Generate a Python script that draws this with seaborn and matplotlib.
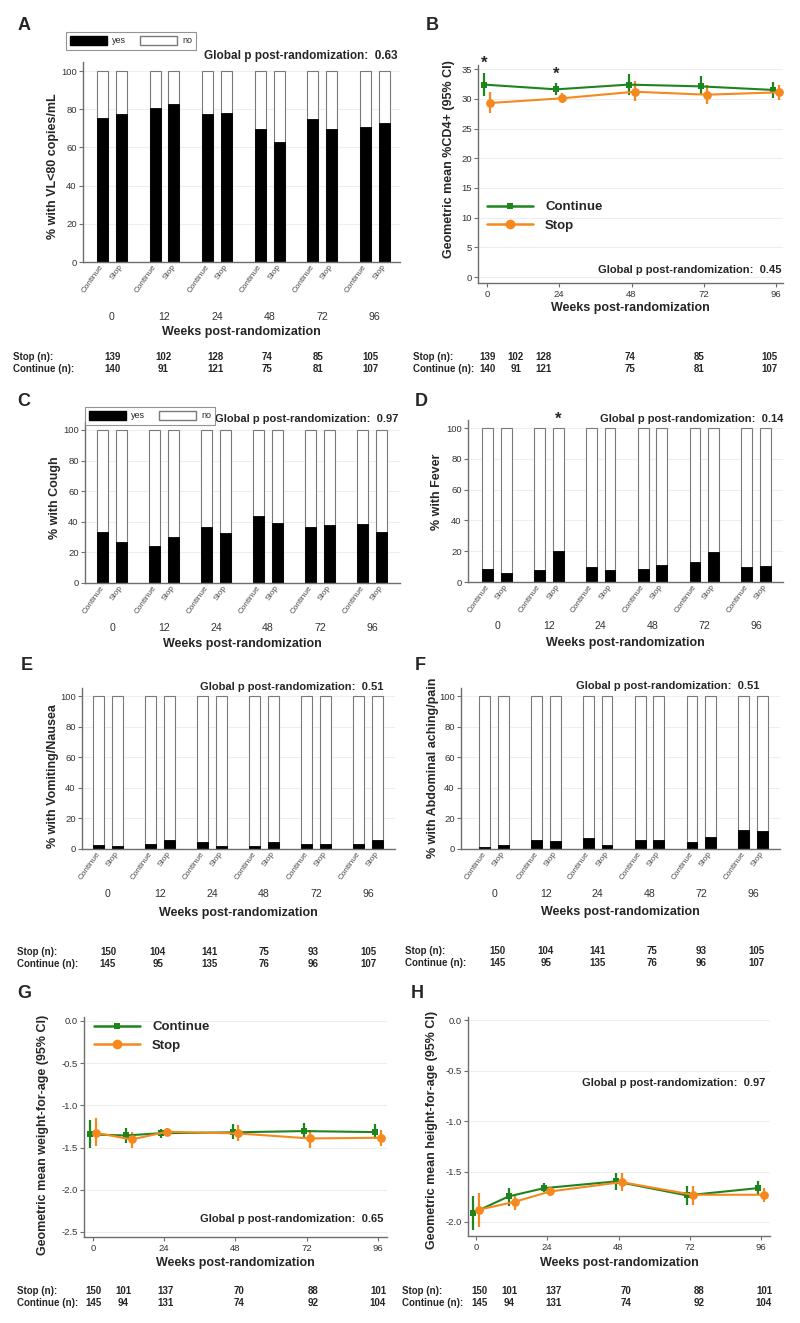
import numpy as np
import pandas as pd
import matplotlib
matplotlib.use("Agg")
import matplotlib.pyplot as plt
from matplotlib.patches import Patch
from matplotlib.lines import Line2D
from matplotlib.ticker import FormatStrFormatter
import seaborn as sns

sns.set_theme(style="white")
plt.rcParams["font.family"] = ["Liberation Sans", "DejaVu Sans"]
plt.rcParams["axes.unicode_minus"] = False

W, H = 800, 1323
GREEN = "#1e841e"
ORANGE = "#f5891e"
SPINE = "#6e6e6e"
TICKC = "#333333"

# ── data ─────────────────────────────────────────────────────
ARMS = ["Continue", "Stop"]
BAR_WEEKS = ["0", "12", "24", "48", "72", "96"]

# % answering "yes" at each visit
vl_cont = [75.5, 80.8, 77.3, 69.6, 74.7, 70.6]
vl_stop = [77.3, 82.7, 77.8, 62.6, 69.9, 72.6]
cough_cont = [33.0, 24.3, 36.5, 43.9, 36.5, 38.7]
cough_stop = [26.7, 29.8, 32.6, 39.1, 37.8, 33.0]
fever_cont = [8.4, 7.6, 10.0, 8.2, 12.8, 9.5]
fever_stop = [5.6, 20.3, 7.6, 10.8, 19.7, 10.6]
vomit_cont = [2.4, 3.5, 4.8, 1.7, 3.5, 3.3]
vomit_stop = [1.7, 6.1, 1.7, 4.3, 3.5, 6.1]
abdo_cont = [1.1, 5.7, 7.0, 5.7, 4.3, 12.4]
abdo_stop = [2.4, 5.0, 2.4, 5.7, 7.8, 11.7]

# geometric mean %CD4+ (95% CI)
cd4_weeks = [0, 24, 48, 72, 96]
cd4_cont = [32.4, 31.6, 32.4, 32.1, 31.5]
cd4_cont_lo = [30.4, 30.6, 30.7, 30.7, 30.1]
cd4_cont_hi = [34.4, 32.6, 34.2, 33.8, 32.8]
cd4_stop = [29.3, 30.1, 31.2, 30.7, 31.1]
cd4_stop_lo = [27.6, 29.3, 29.6, 29.1, 29.8]
cd4_stop_hi = [31.2, 31.0, 33.0, 32.4, 32.4]

# weight-for-age / height-for-age z-scores (95% CI)
anth_weeks = [0, 12, 24, 48, 72, 96]
waz_cont = [-1.345, -1.357, -1.33, -1.32, -1.305, -1.317]
waz_cont_lo = [-1.51, -1.45, -1.385, -1.404, -1.396, -1.404]
waz_cont_hi = [-1.175, -1.265, -1.28, -1.226, -1.206, -1.226]
waz_stop = [-1.325, -1.404, -1.313, -1.333, -1.392, -1.384]
waz_stop_lo = [-1.48, -1.50, -1.353, -1.42, -1.50, -1.48]
waz_stop_hi = [-1.155, -1.31, -1.27, -1.234, -1.294, -1.294]
haz_cont = [-1.91, -1.746, -1.664, -1.598, -1.736, -1.664]
haz_cont_lo = [-2.075, -1.838, -1.703, -1.687, -1.829, -1.73]
haz_cont_hi = [-1.74, -1.664, -1.614, -1.516, -1.647, -1.59]
haz_stop = [-1.878, -1.80, -1.697, -1.605, -1.73, -1.73]
haz_stop_lo = [-2.05, -1.885, -1.74, -1.697, -1.829, -1.80]
haz_stop_hi = [-1.713, -1.73, -1.654, -1.516, -1.647, -1.664]

# numbers at risk
n_vl_stop = [139, 102, 128, 74, 85, 105]
n_vl_cont = [140, 91, 121, 75, 81, 107]
n_sym_stop = [150, 104, 141, 75, 93, 105]
n_sym_cont = [145, 95, 135, 76, 96, 107]
n_anth_stop = [150, 101, 137, 70, 88, 101]
n_anth_cont = [145, 94, 131, 74, 92, 104]

global_p = {"A": "0.63", "B": "0.45", "C": "0.97", "D": "0.14",
            "E": "0.51", "F": "0.51", "G": "0.65", "H": "0.97"}

fig = plt.figure(figsize=(W / 100, H / 100), dpi=100)


def fx(x):
    return x / W


def fy(y):
    return 1 - y / H


def box(l, t, r, b):
    return fig.add_axes([fx(l), fy(b), (r - l) / W, (b - t) / H])


def ftext(x, y, s, **kw):
    fig.text(fx(x), fy(y), s, **kw)


def style_axes(ax):
    sns.despine(ax=ax)
    for sp in ["left", "bottom"]:
        ax.spines[sp].set_color(SPINE)
        ax.spines[sp].set_linewidth(1.0)
    ax.grid(axis="y", color="#eeeeee", lw=0.8)
    ax.grid(axis="x", visible=False)
    ax.set_axisbelow(True)
    ax.tick_params(axis="y", left=True, length=3, width=0.8, color=SPINE,
                   labelsize=6.8, labelcolor=TICKC, pad=1.5)


def place_labels(ax, xlabel, ylabel, xlab_y, ylab_x, ylab_y):
    ax.set_xlabel(xlabel, fontsize=9, fontweight="bold")
    ax.set_ylabel(ylabel, fontsize=9, fontweight="bold")
    ax.xaxis.label.set_va("center")
    ax.yaxis.label.set_va("center")
    bb = ax.get_position()
    ax.xaxis.set_label_coords((bb.x0 + bb.x1) / 2, fy(xlab_y), transform=fig.transFigure)
    ax.yaxis.set_label_coords(fx(ylab_x), fy(ylab_y), transform=fig.transFigure)


def n_table(label_x, y0, xs, stop_n, cont_n):
    ftext(label_x, y0, "Stop (n):", fontsize=7, fontweight="bold", va="center")
    ftext(label_x, y0 + 12, "Continue (n):", fontsize=7, fontweight="bold", va="center")
    for x, s, c in zip(xs, stop_n, cont_n):
        ftext(x, y0, str(s), fontsize=7, fontweight="bold", ha="center", va="center")
        ftext(x, y0 + 12, str(c), fontsize=7, fontweight="bold", ha="center", va="center")


def bar_panel(bx, xlim, cont, stop, ylabel, week_y, xlab_y, ylab_x, ylab_y):
    ax = box(*bx)
    df = pd.DataFrame({"week": BAR_WEEKS * 2,
                       "arm": [ARMS[0]] * 6 + [ARMS[1]] * 6,
                       "yes": cont + stop})
    df["total"] = 100
    sns.barplot(data=df, x="week", y="total", hue="arm", hue_order=ARMS,
                palette={"Continue": "white", "Stop": "white"}, width=0.72, gap=0.42,
                edgecolor="#7a7a7a", linewidth=0.8, legend=False, ax=ax)
    sns.barplot(data=df, x="week", y="yes", hue="arm", hue_order=ARMS,
                palette={"Continue": "black", "Stop": "black"}, width=0.72, gap=0.42,
                edgecolor="black", linewidth=0.6, legend=False, ax=ax)
    style_axes(ax)
    ax.set_ylim(0, 105)
    ax.set_yticks([0, 20, 40, 60, 80, 100])
    ax.set_xlim(*xlim)
    centers = sorted(p.get_x() + p.get_width() / 2 for p in ax.patches[:12])
    ax.set_xticks(range(6), BAR_WEEKS)
    ax.set_xticks(centers, minor=True)
    ax.set_xticklabels(ARMS * 6, minor=True, rotation=55, ha="right",
                       va="center", rotation_mode="anchor")
    pad = (week_y - bx[3] - 5.5) / 1.389
    ax.tick_params(axis="x", which="major", length=0, pad=pad, labelsize=7.6, labelcolor=TICKC)
    ax.tick_params(axis="x", which="minor", length=0, pad=2.5, labelsize=5.9, labelcolor="#4a4a4a")
    place_labels(ax, "Weeks post-randomization", ylabel, xlab_y, ylab_x, ylab_y)
    return ax, centers


def yes_no_legend(x, y):
    handles = [Patch(facecolor="black", edgecolor="black"),
               Patch(facecolor="white", edgecolor="#7a7a7a")]
    leg = fig.legend(handles, ["yes", "no"], ncol=2, loc="upper left",
                     bbox_to_anchor=(fx(x), fy(y)), frameon=True, fancybox=False,
                     edgecolor="#7a7a7a", fontsize=6.5, handlelength=4.1, handleheight=1.1,
                     handletextpad=0.55, columnspacing=1.55, borderpad=0.45, borderaxespad=0)
    leg.get_frame().set_linewidth(0.8)


def line_panel(bx, xlim, ylim, yticks, weeks, cont, clo, chi, stop, slo, shi,
               ylabel, xlab_y, ylab_x, ylab_y, fmt=None):
    ax = box(*bx)
    series = [(cont, clo, chi, -1, GREEN, "s", 4.8),
              (stop, slo, shi, 1, ORANGE, "o", 6.3)]
    for vals, lo, hi, off, col, mk, ms in series:
        xs = np.array(weeks) + off
        ax.vlines(xs, lo, hi, color=col, lw=1.6, zorder=2)
        sns.lineplot(x=xs, y=vals, color=col, marker=mk, markersize=ms,
                     markeredgewidth=0, lw=1.5, ax=ax, zorder=3)
    style_axes(ax)
    ax.set_xlim(*xlim)
    ax.set_ylim(*ylim)
    ax.set_yticks(yticks)
    if fmt:
        ax.yaxis.set_major_formatter(FormatStrFormatter(fmt))
    ax.set_xticks([0, 24, 48, 72, 96])
    ax.tick_params(axis="x", bottom=True, length=3, width=0.8, color=SPINE,
                   labelsize=6.8, labelcolor=TICKC, pad=2)
    place_labels(ax, "Weeks post-randomization", ylabel, xlab_y, ylab_x, ylab_y)
    return ax


def line_legend(ax, x, y):
    handles = [Line2D([], [], color=GREEN, marker="s", markersize=5, lw=1.8, markeredgewidth=0),
               Line2D([], [], color=ORANGE, marker="o", markersize=7, lw=1.8, markeredgewidth=0)]
    ax.legend(handles, ARMS, loc="upper left", bbox_to_anchor=(fx(x), fy(y)),
              bbox_transform=fig.transFigure, frameon=False,
              prop={"weight": "bold", "size": 9.5}, handlelength=3.5,
              handletextpad=0.9, labelspacing=0.5, borderpad=0, borderaxespad=0)


def pval(x, y, key, size=8):
    ftext(x, y, f"Global p post-randomization:  {global_p[key]}", fontsize=size,
          fontweight="bold", ha="right", va="center")


# ── A: viral load ────────────────────────────────────────────
bar_panel((83, 61.5, 400, 262), (-0.55, 5.48), vl_cont, vl_stop,
          "% with VL<80 copies/mL", 318, 332, 53, 166)
yes_no_legend(66, 32)
pval(398, 56, "A", 8.5)
n_table(13, 357, [113, 163, 216, 267, 318, 370], n_vl_stop, n_vl_cont)

# ── B: CD4% ──────────────────────────────────────────────────
axB = line_panel((478, 65, 783, 283), (-3, 98.3), (-1.0, 35.7), range(0, 36, 5),
                 cd4_weeks, cd4_cont, cd4_cont_lo, cd4_cont_hi,
                 cd4_stop, cd4_stop_lo, cd4_stop_hi,
                 "Geometric mean %CD4+ (95% CI)", 308, 449, 159)
for i in [0, 1]:
    axB.text(cd4_weeks[i] - 1, cd4_cont_hi[i] + 0.3, "*", ha="center", va="bottom",
             fontsize=12, fontweight="bold", clip_on=False)
line_legend(axB, 487, 201)
pval(782, 270, "B")
n_table(413, 357, [488, 516, 543, 630, 699, 769], n_vl_stop, n_vl_cont)

# ── C: cough ─────────────────────────────────────────────────
bar_panel((85, 422.3, 400, 583), (-0.52, 5.54), cough_cont, cough_stop,
          "% with Cough", 629, 644, 55, 498)
yes_no_legend(85, 407)
pval(398, 419, "C")

# ── D: fever ─────────────────────────────────────────────────
axD, cD = bar_panel((468, 420.3, 783, 582), (-0.56, 5.52), fever_cont, fever_stop,
                    "% with Fever", 627, 643, 437, 492)
axD.text(cD[3], 100.5, "*", ha="center", va="bottom", fontsize=12,
         fontweight="bold", clip_on=False)
pval(783, 419, "D")

# ── E: vomiting ──────────────────────────────────────────────
bar_panel((82, 688.4, 395, 849), (-0.5, 5.52), vomit_cont, vomit_stop,
          "% with Vomiting/Nausea", 895, 913, 53, 776)
pval(383, 687, "E")
n_table(17, 952, [108, 158, 209, 264, 313, 368], n_sym_stop, n_sym_cont)

# ── F: abdominal pain ────────────────────────────────────────
bar_panel((461, 688.4, 780, 849), (-0.64, 5.52), abdo_cont, abdo_stop,
          "% with Abdominal aching/pain", 895, 912, 433, 768)
pval(759, 686, "F")
n_table(405, 951, [497, 546, 598, 652, 701, 756], n_sym_stop, n_sym_cont)

# ── G: weight-for-age ────────────────────────────────────────
axG = line_panel((84, 1017, 387, 1237), (-3, 99), (-2.56, 0.047),
                 [0, -0.5, -1.0, -1.5, -2.0, -2.5], anth_weeks,
                 waz_cont, waz_cont_lo, waz_cont_hi, waz_stop, waz_stop_lo, waz_stop_hi,
                 "Geometric mean weight-for-age (95% CI)", 1263, 43, 1135, fmt="%.1f")
line_legend(axG, 94, 1021)
pval(383, 1219, "G")
n_table(17, 1291, [93, 123, 166, 239, 313, 378], n_anth_stop, n_anth_cont)

# ── H: height-for-age ────────────────────────────────────────
axH = line_panel((468, 1017, 770, 1236), (-2.7, 99), (-2.139, 0.033),
                 [0, -0.5, -1.0, -1.5, -2.0], anth_weeks,
                 haz_cont, haz_cont_lo, haz_cont_hi, haz_stop, haz_stop_lo, haz_stop_hi,
                 "Geometric mean height-for-age (95% CI)", 1263, 432, 1130, fmt="%.1f")
pval(765, 1083, "H")
n_table(402, 1291, [479, 509, 553, 626, 699, 764], n_anth_stop, n_anth_cont)

# panel letters
for letter, (x, y) in {"A": (24, 26), "B": (432, 25), "C": (24, 402), "D": (421, 401),
                       "E": (27, 666), "F": (420, 666), "G": (24, 993), "H": (417, 993)}.items():
    ftext(x, y, letter, fontsize=13, fontweight="bold", ha="center", va="center")

fig.savefig("out.png", dpi=100, facecolor="white")
